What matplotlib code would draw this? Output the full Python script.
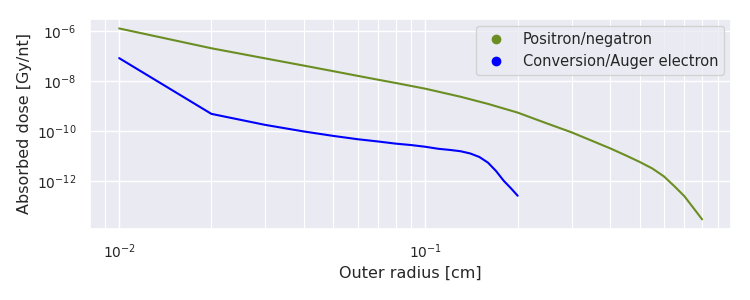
import matplotlib
matplotlib.use("Agg")
import matplotlib.pyplot as plt
from matplotlib.lines import Line2D
import seaborn as sns

sns.set_theme(style="darkgrid")
plt.rcParams['font.family'] = ['DejaVu Sans']

# outer radius [cm] vs absorbed dose [Gy/nt]
r_beta = [0.01, 0.02, 0.03, 0.04, 0.05, 0.06, 0.07, 0.08, 0.10, 0.13,
          0.16, 0.20, 0.245, 0.30, 0.40, 0.45, 0.50, 0.55, 0.60, 0.65,
          0.70, 0.75, 0.80]
dose_beta = [1.23e-6, 2.0e-7, 7.9e-8, 4.1e-8, 2.45e-8, 1.6e-8, 1.12e-8,
             8.3e-9, 4.9e-9, 2.36e-9, 1.22e-9, 5.5e-10, 2.2e-10, 9.0e-11,
             2.1e-11, 1.1e-11, 6.0e-12, 3.3e-12, 1.6e-12, 6.4e-13, 2.6e-13,
             8.7e-14, 3.1e-14]

r_ce = [0.01, 0.02, 0.03, 0.04, 0.05, 0.06, 0.07, 0.08, 0.09, 0.10, 0.11,
        0.12, 0.13, 0.14, 0.15, 0.16, 0.17, 0.18, 0.19, 0.20]
dose_ce = [8.1e-8, 4.9e-10, 1.78e-10, 9.8e-11, 6.5e-11, 4.8e-11, 3.9e-11,
           3.2e-11, 2.8e-11, 2.4e-11, 2.0e-11, 1.8e-11, 1.6e-11, 1.3e-11,
           9.4e-12, 5.6e-12, 2.6e-12, 1.07e-12, 5.4e-13, 2.7e-13]

fig, ax = plt.subplots(figsize=(7.5, 3), dpi=100)
fig.subplots_adjust(left=0.12, right=0.975, top=0.937, bottom=0.237)

ax.plot(r_beta, dose_beta, color='olivedrab', lw=1.5)
ax.plot(r_ce, dose_ce, color='blue', lw=1.5)
ax.set_xscale('log')
ax.set_yscale('log')
ax.grid(which='minor', axis='x', color='white', lw=0.8)

ax.set_xlabel('Outer radius [cm]', fontsize=11.5)
ax.set_ylabel('Absorbed dose [Gy/nt]', fontsize=11.5)
ax.tick_params(labelsize=10)

handles = [Line2D([], [], marker='o', ls='none', color='olivedrab', markersize=6),
           Line2D([], [], marker='o', ls='none', color='blue', markersize=6)]
ax.legend(handles, ['Positron/negatron', 'Conversion/Auger electron'],
          loc='upper right', fontsize=10.5)

fig.savefig('out.png')
